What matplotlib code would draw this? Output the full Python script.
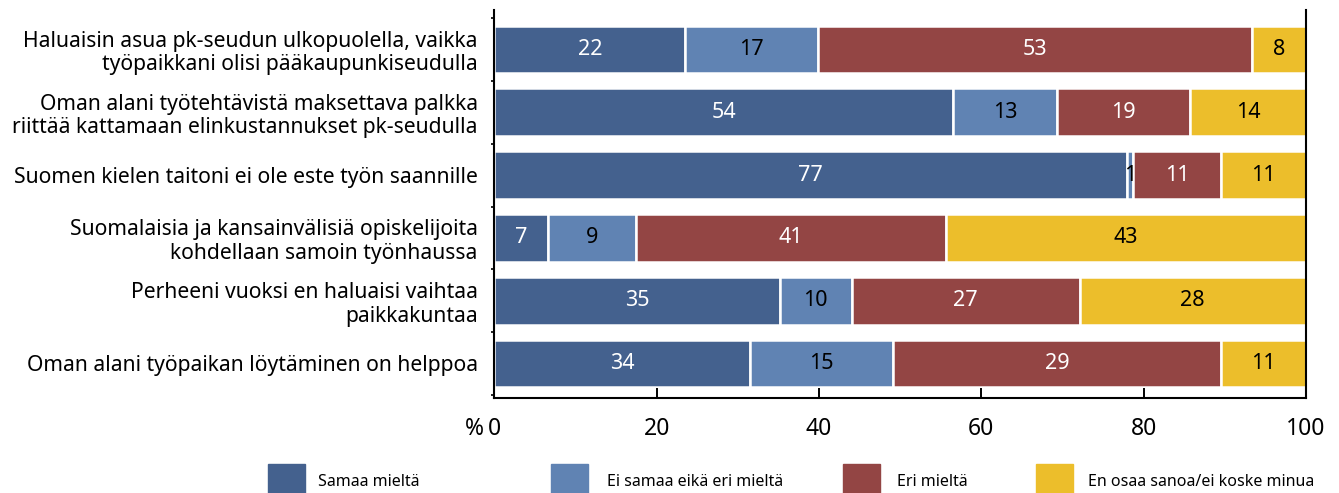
import matplotlib
matplotlib.use("Agg")
import matplotlib.pyplot as plt
from matplotlib.patches import Rectangle

plt.rcParams['font.family'] = ['Noto Sans', 'DejaVu Sans']

categories = [
    "Haluaisin asua pk-seudun ulkopuolella, vaikka\ntyöpaikkani olisi pääkaupunkiseudulla",
    "Oman alani työtehtävistä maksettava palkka\nriittää kattamaan elinkustannukset pk-seudulla",
    "Suomen kielen taitoni ei ole este työn saannille",
    "Suomalaisia ja kansainvälisiä opiskelijoita\nkohdellaan samoin työnhaussa",
    "Perheeni vuoksi en haluaisi vaihtaa\npaikkakuntaa",
    "Oman alani työpaikan löytäminen on helppoa",
]
series_names = ["Samaa mieltä", "Ei samaa eikä eri mieltä", "Eri mieltä",
                "En osaa sanoa/ei koske minua"]

# bar widths as drawn (%)
samaa = [23.5, 56.5, 77.9, 6.6, 35.2, 31.5]
ei_samaa = [16.4, 12.8, 0.8, 10.8, 8.8, 17.6]
eri = [53.5, 16.4, 10.8, 38.3, 28.1, 40.4]
en_osaa = [6.6, 14.3, 10.5, 44.3, 27.9, 10.5]

# value labels as printed
samaa_lbl = [22, 54, 77, 7, 35, 34]
ei_samaa_lbl = [17, 13, 1, 9, 10, 15]
eri_lbl = [53, 19, 11, 41, 27, 29]
en_osaa_lbl = [8, 14, 11, 43, 28, 11]

xticks = [0, 20, 40, 60, 80, 100]

colors = ["#44618e", "#6083b3", "#934544", "#ecbe2b"]
text_colors = ["white", "black", "white", "black"]

W, H = 1339, 493
fig = plt.figure(figsize=(W / 100, H / 100), dpi=100)
ax = fig.add_axes([494.4 / W, 1 - 398 / H, (1306 - 494.4) / W, (398 - 10) / H])

series = [samaa, ei_samaa, eri, en_osaa]
labels = [samaa_lbl, ei_samaa_lbl, eri_lbl, en_osaa_lbl]
ypos = list(range(len(categories)))
left = [0.0] * len(categories)
for vals, lbls, col, tcol, name in zip(series, labels, colors, text_colors, series_names):
    bars = ax.barh(ypos, vals, left=left, height=0.76, color=col,
                   edgecolor="white", linewidth=1.8, label=name)
    ax.bar_label(bars, labels=[str(v) for v in lbls], label_type="center",
                 color=tcol, fontsize=15.5)
    left = [l + v for l, v in zip(left, vals)]

ax.set_xlim(0, 100)
ax.set_ylim(5.55, -0.63)
ax.set_yticks(ypos)
ax.set_yticklabels(categories, fontsize=15.2, linespacing=1.15)
ax.set_yticks([i + 0.5 for i in range(-1, len(categories))], minor=True)
ax.tick_params(axis="y", which="major", length=0, pad=12)
ax.tick_params(axis="y", which="minor", length=2.5, width=1.2, direction="out")
ax.set_xticks(xticks)
ax.set_xticklabels([str(t) for t in xticks], fontsize=16.5)
ax.tick_params(axis="x", direction="in", length=7, width=1.4, pad=14)
ax.annotate("%", xy=(0, 0), xycoords=("data", "axes fraction"),
            xytext=(-7.5, -14), textcoords="offset points",
            ha="right", va="top", fontsize=16.5)

for s in ["left", "right", "bottom"]:
    ax.spines[s].set_linewidth(1.5)
    ax.spines[s].set_color("black")
ax.spines["top"].set_visible(False)

# legend
sq_x = [268, 551, 843, 1036]
txt_x = [318, 607, 897, 1088]
for name, col, sx, tx in zip(series_names, colors, sq_x, txt_x):
    fig.patches.append(Rectangle((sx / W, 0), 37 / W, (493 - 464) / H,
                                 transform=fig.transFigure, color=col))
    fig.text(tx / W, 1 - 486 / H, name, fontsize=11.5, va="baseline", ha="left")

fig.savefig("out.png", dpi=100)
